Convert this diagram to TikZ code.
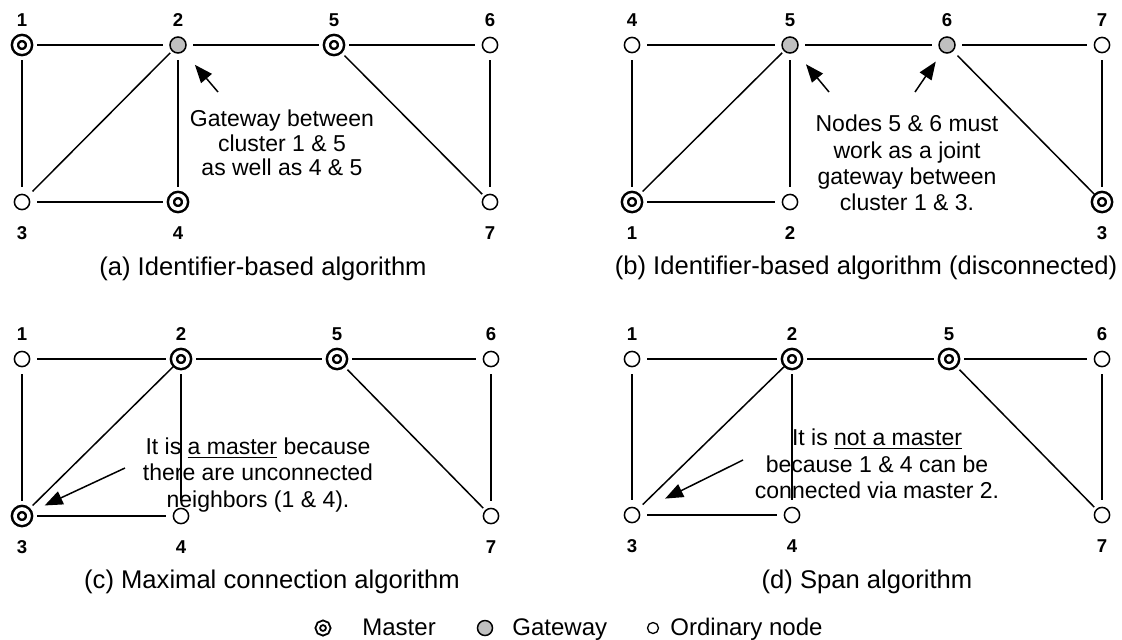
\documentclass[tikz,border=0pt]{standalone}
\usepackage{fontspec}
\setmainfont{Liberation Sans}
\usetikzlibrary{arrows.meta}
\definecolor{gwgray}{RGB}{192,192,192}
\tikzset{
	ordinary/.style={circle, draw, line width=0.75pt, fill=white, minimum size=7.6pt, inner sep=0pt},
	gateway/.style={circle, draw, line width=0.75pt, fill=gwgray, minimum size=8pt, inner sep=0pt},
	master/.style={circle, draw, line width=1.25pt, double=white, double distance=1.8pt, fill=white, minimum size=7pt, inner sep=0pt},
	num/.style={font=\fontsize{9.3}{10}\selectfont\bfseries, inner sep=0pt},
	numup/.style={label={[num, yshift=12.5pt]center:#1}},
	numdown/.style={label={[num, yshift=-15.5pt]center:#1}},
	link/.style={line width=0.75pt, shorten <=7.5pt, shorten >=7.5pt},
	diag/.style={line width=0.75pt, shorten <=7.5pt, shorten >=5.5pt},
	pointer/.style={line width=0.75pt, -{Triangle[length=9pt, width=7pt]}},
	note/.style={align=center, inner sep=0pt, font=\fontsize{11.5}{13.2}\selectfont},
	caption/.style={inner sep=0pt, anchor=base, font=\fontsize{12.8}{15}\selectfont},
	legtext/.style={inner sep=0pt, anchor=base west, font=\fontsize{12}{14}\selectfont},
}

\begin{document}
\begin{tikzpicture}[x=0.5pt, y=-0.5pt]
			%%%%% START %%%%%
			\useasboundingbox (0, 0) rectangle (1122, 639);
			
			%%%%% (a) %%%%%
			\node[master, numup=1] (a1) at (22, 45) {};
			\node[gateway, numup=2] (a2) at (178, 45) {};
			\node[master, numup=5] (a5) at (334, 45) {};
			\node[ordinary, numup=6] (a6) at (490, 45) {};
			\node[ordinary, numdown=3] (a3) at (22, 202) {};
			\node[master, numdown=4] (a4) at (178, 202) {};
			\node[ordinary, numdown=7] (a7) at (490, 202) {};
			
			\draw[link] (a1.center) -- (a2.center);
			\draw[link] (a2.center) -- (a5.center);
			\draw[link] (a5.center) -- (a6.center);
			\draw[link] (a1.center) -- (a3.center);
			\draw[link] (a2.center) -- (a4.center);
			\draw[link] (a6.center) -- (a7.center);
			\draw[link] (a3.center) -- (a4.center);
			\draw[diag] (a3.center) -- (a2.center);
			\draw[diag] (a5.center) -- (a7.center);
			
			\node[note, font=\fontsize{11.5}{12.3}\selectfont] (nota) at (282, 143) {Gateway between\\cluster 1 \& 5\\as well as 4 \& 5};
			\coordinate (tail a) at (218, 92);
			\draw[pointer, shorten >=13pt] (tail a) -- (a2.center);
			
			\node[caption] (capa) at (263, 275) {(a) Identifier-based algorithm};
			
			%%%%% (b) %%%%%
			\node[ordinary, numup=4] (b4) at (632, 45) {};
			\node[gateway, numup=5] (b5) at (790, 45) {};
			\node[gateway, numup=6] (b6) at (947, 45) {};
			\node[ordinary, numup=7] (b7) at (1102, 45) {};
			\node[master, numdown=1] (b1) at (632, 202) {};
			\node[ordinary, numdown=2] (b2) at (790, 202) {};
			\node[master, numdown=3] (b3) at (1102, 202) {};
			
			\draw[link] (b4.center) -- (b5.center);
			\draw[link] (b5.center) -- (b6.center);
			\draw[link] (b6.center) -- (b7.center);
			\draw[link] (b4.center) -- (b1.center);
			\draw[link] (b5.center) -- (b2.center);
			\draw[link] (b7.center) -- (b3.center);
			\draw[link] (b1.center) -- (b2.center);
			\draw[diag] (b1.center) -- (b5.center);
			\draw[diag] (b6.center) -- (b3.center);
			
			\node[note] (notb) at (907, 163) {Nodes 5 \& 6 must\\work as a joint\\gateway between\\cluster 1 \& 3.};
			\coordinate (tail b5) at (829, 92);
			\coordinate (tail b6) at (915, 92);
			\draw[pointer, shorten >=12.5pt] (tail b5) -- (b5.center);
			\draw[pointer, shorten >=10pt] (tail b6) -- (b6.center);
			
			\node[caption] (capb) at (866, 274) {(b) Identifier-based algorithm (disconnected)};
			
			%%%%% (c) %%%%%
			\node[ordinary, numup=1] (c1) at (22, 359) {};
			\node[master, numup=2] (c2) at (181, 359) {};
			\node[master, numup=5] (c5) at (337, 359) {};
			\node[ordinary, numup=6] (c6) at (491, 359) {};
			\node[master, numdown=3] (c3) at (22, 516) {};
			\node[ordinary, numdown=4] (c4) at (181, 516) {};
			\node[ordinary, numdown=7] (c7) at (491, 516) {};
			
			\draw[link] (c1.center) -- (c2.center);
			\draw[link] (c2.center) -- (c5.center);
			\draw[link] (c5.center) -- (c6.center);
			\draw[link] (c1.center) -- (c3.center);
			\draw[link] (c2.center) -- (c4.center);
			\draw[link] (c6.center) -- (c7.center);
			\draw[link] (c3.center) -- (c4.center);
			\draw[diag] (c3.center) -- (c2.center);
			\draw[diag] (c5.center) -- (c7.center);
			
			\node[note] (notc) at (258, 475) {It is \underline{a master} because\\there are unconnected\\neighbors (1 \& 4).};
			\coordinate (tail c) at (125, 468);
			\draw[pointer, shorten >=12.5pt] (tail c) -- (c3.center);
			
			\node[caption] (capc) at (272, 588) {(c) Maximal connection algorithm};
			
			%%%%% (d) %%%%%
			\node[ordinary, numup=1] (d1) at (632, 359) {};
			\node[master, numup=2] (d2) at (792, 359) {};
			\node[master, numup=5] (d5) at (949, 359) {};
			\node[ordinary, numup=6] (d6) at (1102, 359) {};
			\node[ordinary, numdown=3] (d3) at (632, 515) {};
			\node[ordinary, numdown=4] (d4) at (792, 515) {};
			\node[ordinary, numdown=7] (d7) at (1102, 515) {};
			
			\draw[link] (d1.center) -- (d2.center);
			\draw[link] (d2.center) -- (d5.center);
			\draw[link] (d5.center) -- (d6.center);
			\draw[link] (d1.center) -- (d3.center);
			\draw[link] (d2.center) -- (d4.center);
			\draw[link] (d6.center) -- (d7.center);
			\draw[link] (d3.center) -- (d4.center);
			\draw[diag] (d3.center) -- (d2.center);
			\draw[diag] (d5.center) -- (d7.center);
			
			\node[note] (notd) at (877, 464) {It is \underline{not a master}\\because 1 \& 4 can be\\connected via master 2.};
			\coordinate (tail d) at (743, 460);
			\draw[pointer, shorten >=18.5pt] (tail d) -- (d3.center);
			
			\node[caption] (capd) at (867, 588) {(d) Span algorithm};
			
			%%%%% legend %%%%%
			\node[circle, draw, line width=0.95pt, double=white, double distance=1.16pt, fill=white, minimum size=5.28pt, inner sep=0pt] (lmaster) at (323, 628) {};
			\node[legtext] (tmaster) at (362, 635) {Master};
			\node[gateway, minimum size=7.5pt] (lgate) at (485, 628) {};
			\node[legtext] (tgate) at (512, 635) {Gateway};
			\node[ordinary, line width=0.65pt, minimum size=5.5pt] (lord) at (653, 628) {};
			\node[legtext] (tord) at (670, 635) {Ordinary node};
			%%%%% END %%%%%
\end{tikzpicture}
\end{document}
